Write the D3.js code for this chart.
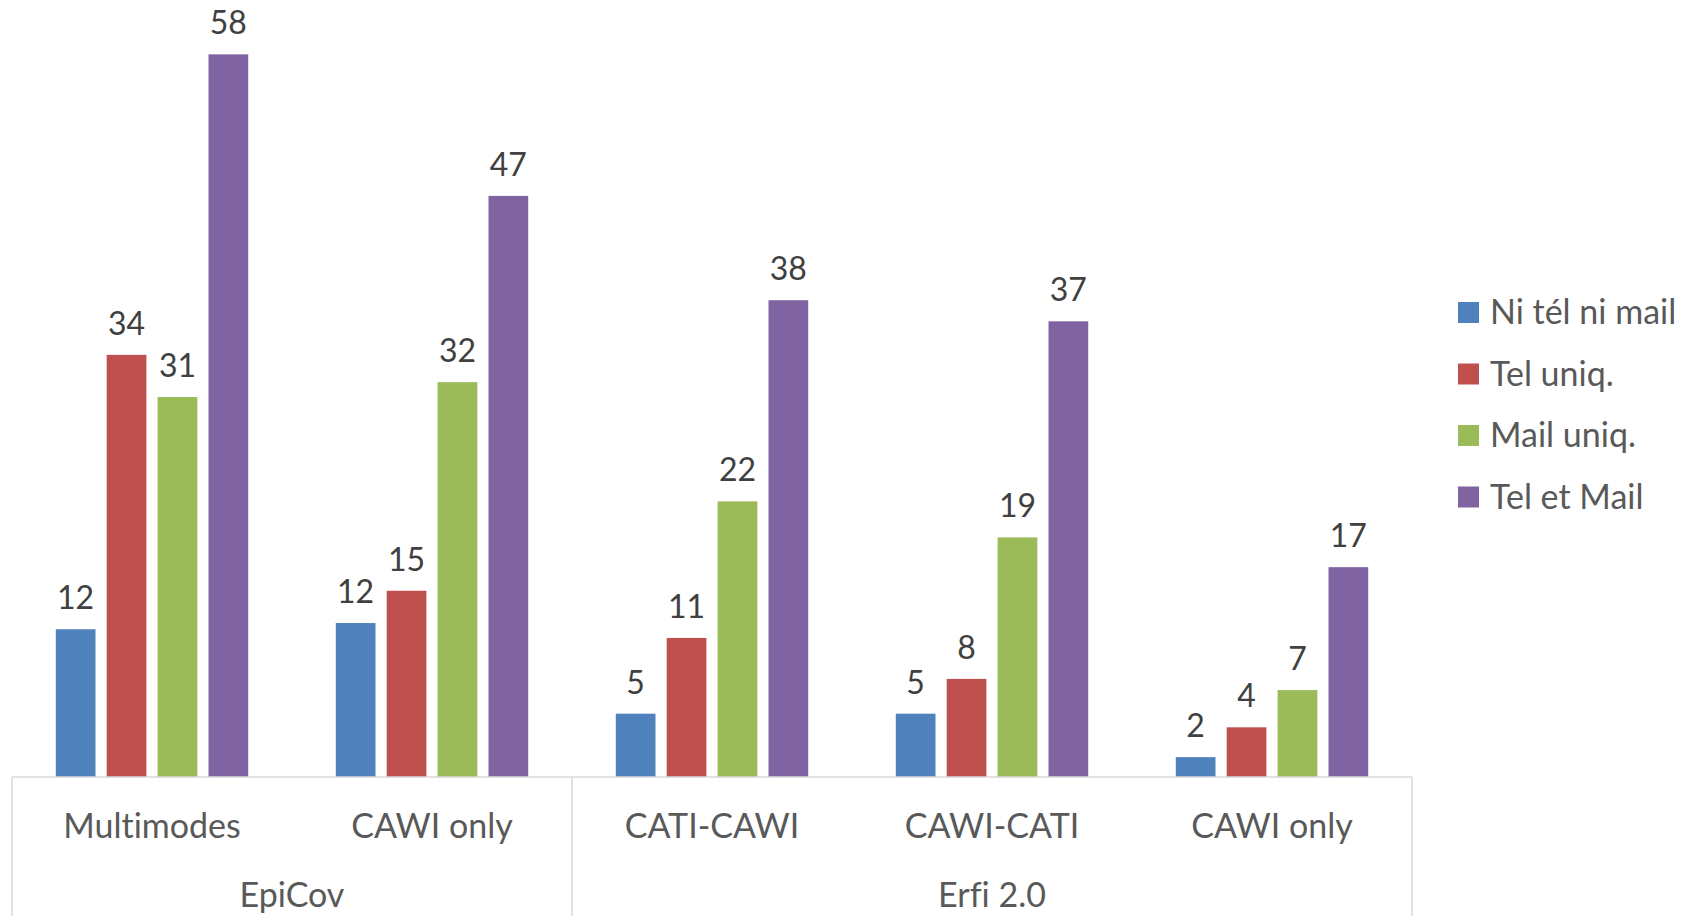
<html><head>
  <script src="https://d3js.org/d3.v7.min.js"></script>
</head>
<body>
  <style>
  body { margin: 0; background: white; }
  text { font-family: Lato, 'Open Sans', sans-serif; font-variant-ligatures: none; }
  .label { fill: #404040; font-size: 32px; }
  .cat { fill: #595959; font-size: 34px; }
  .legend text { fill: #595959; font-size: 34px; }
  .frame { stroke: #d9d9d9; stroke-width: 1.5; }
  </style>

  <script>
    // data
    const groups = ["EpiCov", "Erfi 2.0"]
    const categories = ["Multimodes", "CAWI only", "CATI-CAWI", "CAWI-CATI", "CAWI only"]
    const categoryGroup = [0, 0, 1, 1, 1]
    const series = ["Ni tél ni mail", "Tel uniq.", "Mail uniq.", "Tel et Mail"]
    const niTelNiMail = [11.9, 12.4, 5.1, 5.1, 1.6]
    const telUniq = [34.0, 15.0, 11.2, 7.9, 4.0]
    const mailUniq = [30.6, 31.8, 22.2, 19.3, 7.0]
    const telEtMail = [58.2, 46.8, 38.4, 36.7, 16.9]
    const colors = ["#4F81BD", "#C0504D", "#9BBB59", "#8064A2"]

    const values = [niTelNiMail, telUniq, mailUniq, telEtMail]

    const width = 1694, height = 916
    const margin = {left: 12, right: 282, top: 32, bottom: 139}
    const plotRight = width - margin.right
    const baseY = height - margin.bottom

    const svg = d3.select("body").append("svg")
                  .attr("width", width)
                  .attr("height", height)

    // scales
    const catScale = d3.scaleBand().domain(d3.range(categories.length))
                       .range([margin.left, plotRight])
    const seriesScale = d3.scaleBand().domain(d3.range(series.length))
                          .range([0, catScale.bandwidth()])
                          .paddingInner(0.22).paddingOuter(0.86)
    const yScale = d3.scaleLinear().domain([0, 60]).range([baseY, margin.top])
    const colorScale = d3.scaleOrdinal().domain(series).range(colors)

    // flatten into one row per bar
    let bars = []
    values.forEach((vals, s) => {
      vals.forEach((v, c) => bars.push({s: s, c: c, v: v}))
    })

    let barArea = svg.append("g")
    barArea.selectAll("rect").data(bars)
           .join("rect")
           .attr("x", d => catScale(d.c) + seriesScale(d.s))
           .attr("y", d => yScale(d.v))
           .attr("width", seriesScale.bandwidth())
           .attr("height", d => baseY - yScale(d.v))
           .attr("fill", d => colorScale(series[d.s]))

    barArea.selectAll("text").data(bars)
           .join("text").attr("class", "label")
           .attr("x", d => catScale(d.c) + seriesScale(d.s) + seriesScale.bandwidth() / 2)
           .attr("y", d => yScale(d.v) - 20)
           .attr("text-anchor", "middle")
           .text(d => Math.round(d.v))

    // category axis with two levels
    let axis = svg.append("g")
    axis.append("line").attr("class", "frame")
        .attr("x1", margin.left).attr("x2", plotRight)
        .attr("y1", baseY).attr("y2", baseY)

    // group boundaries
    let bounds = [0]
    categoryGroup.forEach((g, i) => {
      if (i == categoryGroup.length - 1 || categoryGroup[i + 1] != g) bounds.push(i + 1)
    })
    axis.selectAll("line.sep").data(bounds)
        .join("line").attr("class", "frame sep")
        .attr("x1", b => b < categories.length ? catScale(b) : plotRight)
        .attr("x2", b => b < categories.length ? catScale(b) : plotRight)
        .attr("y1", baseY).attr("y2", height + 10)

    axis.selectAll("text.cat").data(categories)
        .join("text").attr("class", "cat")
        .attr("x", (d, i) => catScale(i) + catScale.bandwidth() / 2)
        .attr("y", baseY + 61)
        .attr("text-anchor", "middle")
        .text(d => d)

    axis.selectAll("text.grp").data(groups)
        .join("text").attr("class", "cat grp")
        .attr("x", (d, g) => {
          let a = catScale(bounds[g])
          let b = bounds[g + 1] < categories.length ? catScale(bounds[g + 1]) : plotRight
          return (a + b) / 2
        })
        .attr("y", baseY + 130)
        .attr("text-anchor", "middle")
        .text(d => d)

    // legend
    let legend = svg.append("g").attr("class", "legend")
                    .attr("transform", "translate(1458,302)")
    let items = legend.selectAll("g").data(series)
                      .join("g")
                      .attr("transform", (d, i) => `translate(0,${i * 61.5})`)
    items.append("rect").attr("width", 21).attr("height", 21)
         .attr("fill", d => colorScale(d))
    items.append("text").attr("x", 32).attr("y", 22).text(d => d)
  </script>
</body>
</html>
